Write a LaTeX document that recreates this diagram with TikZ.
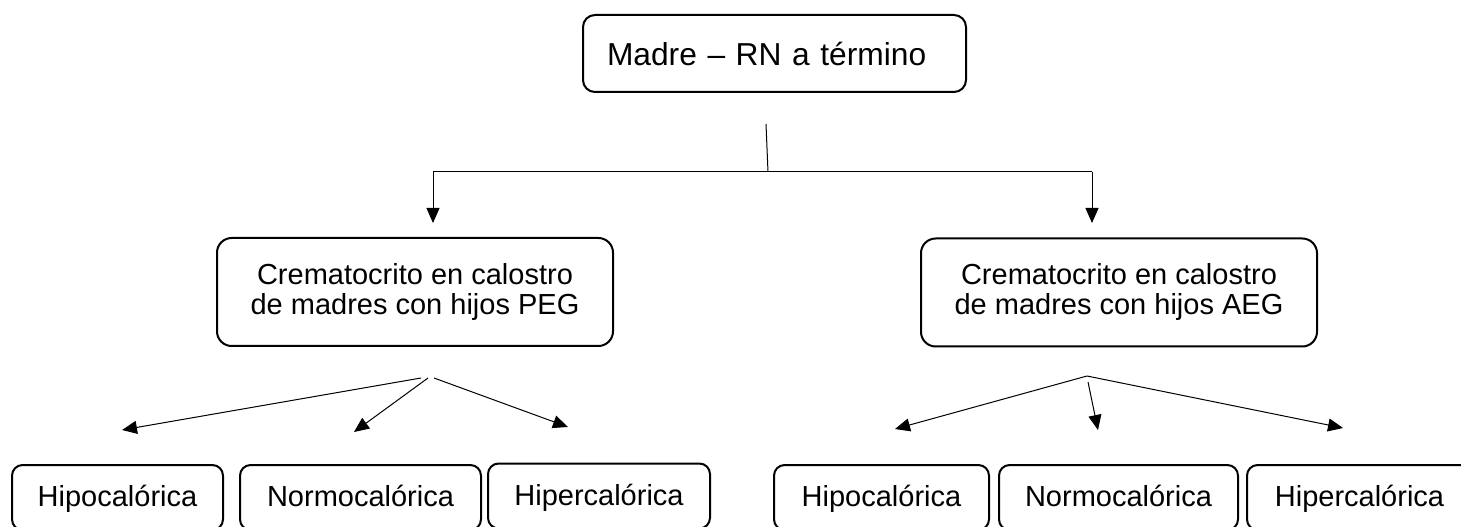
\documentclass[tikz,border=0pt]{standalone}
\usepackage{fontspec}
\setmainfont{Liberation Sans}
\usetikzlibrary{arrows.meta}
\begin{document}
\begin{tikzpicture}[x=0.75pt,y=-0.75pt,
  boxbase/.style={draw=black, line width=1.5pt, rounded corners=10pt, inner sep=0pt, align=center},
  topbox/.style={boxbase, rounded corners=9pt, font=\fontsize{23.8pt}{27pt}\selectfont, text width=251.25pt, align=left, inner xsep=18pt, minimum height=57.75pt, anchor=west},
  midbox/.style={boxbase, rounded corners=11pt, font=\fontsize{21.75pt}{22.5pt}\selectfont, minimum width=297pt, minimum height=81pt},
  leafbox/.style={boxbase, rounded corners=8pt, font=\fontsize{21.75pt}{22.5pt}\selectfont, minimum height=48.75pt, text height=16pt, text depth=2pt},
  link/.style={draw=black, line width=0.75pt},
  arr/.style={link, -{Triangle[length=11.25pt,width=9.75pt]}}]
\useasboundingbox (0,0) rectangle (1461,527);
\fill[white] (0,0) rectangle (1461,527);
\clip (0,0) rectangle (1461,527);

% nodes
\node[topbox] (top) at (582,53.5) {Madre – RN a término};
\node[midbox] (peg) at (415,292) {Crematocrito en calostro\\de madres con hijos PEG};
\node[midbox] (aeg) at (1119,292.5) {Crematocrito en calostro\\de madres con hijos AEG};

\node[leafbox, minimum width=158.25pt] (l1) at (117.5,497.5) {Hipocalórica};
\node[leafbox, minimum width=180.75pt] (l2) at (360.5,497.5) {Normocalórica};
\node[leafbox, minimum width=166.5pt] (l3) at (599,496) {Hipercalórica};
\node[leafbox, minimum width=161.25pt] (r1) at (881.5,497.5) {Hipocalórica};
\node[leafbox, minimum width=179.25pt] (r2) at (1118.5,497.5) {Normocalórica};
\node[leafbox, minimum width=168.75pt] (r3) at (1359.5,497.5) {Hipercalórica};

% connector points
\coordinate (vtop) at (766,124);
\coordinate (vbot) at (768,172);
\coordinate (hl) at (433,172);
\coordinate (hr) at (1092,172);
\coordinate (tipL) at (433,223);
\coordinate (tipR) at (1092,223);

\coordinate (aL1) at (421,378);
\coordinate (aL2) at (428,378);
\coordinate (aL3) at (434,378);
\coordinate (tL1) at (122,430);
\coordinate (tL2) at (354,432);
\coordinate (tL3) at (568,427);

\coordinate (aR) at (1087,376);
\coordinate (aR2) at (1088,382);
\coordinate (tR1) at (895,429);
\coordinate (tR2) at (1098,430);
\coordinate (tR3) at (1343,428);

% connectors
\draw[link] (vtop) -- (vbot);
\draw[link] (hl) -- (hr);
\draw[arr] (hl) -- (tipL);
\draw[arr] (hr) -- (tipR);

\draw[arr] (aL1) -- (tL1);
\draw[arr] (aL2) -- (tL2);
\draw[arr] (aL3) -- (tL3);

\draw[arr] (aR) -- (tR1);
\draw[arr] (aR2) -- (tR2);
\draw[arr] (aR) -- (tR3);
\end{tikzpicture}
\end{document}
